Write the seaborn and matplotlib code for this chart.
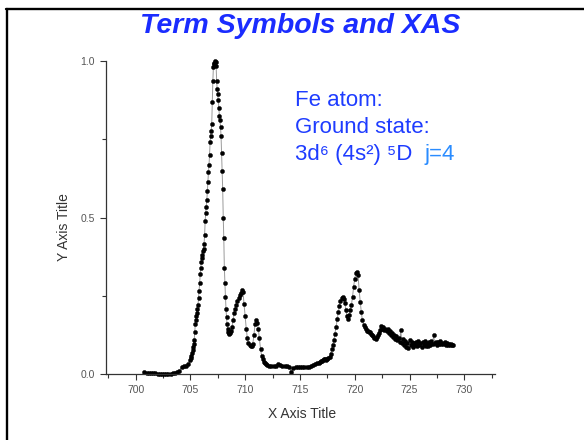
import matplotlib
matplotlib.use("Agg")
import matplotlib.pyplot as plt
from matplotlib.lines import Line2D
from matplotlib.ticker import MultipleLocator
import seaborn as sns
import pandas as pd

# Fe L-edge X-ray absorption spectrum (normalised)
energy_ev = [
    700.8, 701.0, 701.2, 701.4, 701.6, 701.8, 702.0, 702.2, 702.4, 702.6,
    702.8, 703.0, 703.2, 703.4, 703.6, 703.8, 704.0, 704.2, 704.4, 704.6,
    704.8,
    705.00, 705.05, 705.10, 705.15, 705.20, 705.25, 705.30, 705.35, 705.40, 705.45,
    705.50, 705.55, 705.60, 705.65, 705.70, 705.75, 705.80, 705.85, 705.90, 705.95,
    706.00, 706.05, 706.10, 706.15, 706.20, 706.25, 706.30, 706.35, 706.40, 706.45,
    706.50, 706.55, 706.60, 706.65, 706.70, 706.75, 706.80, 706.85, 706.90, 706.95,
    707.00, 707.05, 707.10, 707.15, 707.20, 707.25, 707.30, 707.35, 707.40, 707.45,
    707.50, 707.55, 707.60, 707.65, 707.70, 707.75, 707.80, 707.85, 707.90, 707.95,
    708.00, 708.05, 708.10, 708.15, 708.20, 708.25, 708.30, 708.35, 708.40, 708.45,
    708.50, 708.55, 708.60,
    708.7, 708.8, 708.9, 709.0, 709.1, 709.2, 709.3, 709.4, 709.5, 709.6,
    709.7, 709.8, 709.9, 710.0, 710.1, 710.2, 710.3, 710.4, 710.5, 710.6,
    710.7, 710.8, 710.9, 711.0, 711.1, 711.2, 711.3, 711.4, 711.5, 711.6,
    711.7, 711.8, 711.9, 712.0,
    712.2, 712.4, 712.6, 712.8, 713.0, 713.2, 713.4, 713.6, 713.8, 714.0,
    714.2, 714.4, 714.6, 714.8, 715.0, 715.2, 715.4, 715.6, 715.8, 716.0,
    716.2, 716.4, 716.6,
    716.7, 716.8, 716.9, 717.0, 717.1, 717.2, 717.3, 717.4, 717.5, 717.6,
    717.7, 717.8, 717.9, 718.0, 718.1, 718.2, 718.3, 718.4, 718.5, 718.6,
    718.7, 718.8, 718.9, 719.0, 719.1, 719.2, 719.3, 719.4, 719.5, 719.6,
    719.7, 719.8, 719.9, 720.0, 720.1, 720.2, 720.3, 720.4, 720.5, 720.6,
    720.7, 720.8, 720.9, 721.0, 721.1, 721.2, 721.3, 721.4, 721.5, 721.6,
    721.7, 721.8, 721.9, 722.0,
    722.1, 722.2, 722.3, 722.4, 722.5, 722.6, 722.7, 722.8, 722.9, 723.0,
    723.1, 723.2, 723.3, 723.4, 723.5, 723.6, 723.7, 723.8, 723.9, 724.0,
    724.1, 724.2, 724.3, 724.4, 724.5, 724.6, 724.7, 724.8, 724.9, 725.0,
    725.1, 725.2, 725.3, 725.4, 725.5, 725.6, 725.7, 725.8, 725.9, 726.0,
    726.1, 726.2, 726.3, 726.4, 726.5, 726.6, 726.7, 726.8, 726.9, 727.0,
    727.1, 727.2, 727.3, 727.4, 727.5, 727.6, 727.7, 727.8, 727.9, 728.0,
    728.1, 728.2, 728.3, 728.4, 728.5, 728.6, 728.7, 728.8, 728.9, 729.0,
]

absorption = [
    0.006, 0.005, 0.004, 0.004, 0.003, 0.003, 0.002, 0.002, 0.001, 0.001,
    0.002, 0.002, 0.002, 0.004, 0.005, 0.006, 0.012, 0.022, 0.025, 0.027,
    0.033,
    0.045, 0.052, 0.060, 0.068, 0.078, 0.088, 0.098, 0.108, 0.135, 0.160,
    0.172, 0.186, 0.196, 0.208, 0.222, 0.245, 0.266, 0.292, 0.320, 0.340,
    0.358, 0.370, 0.382, 0.392, 0.400, 0.415, 0.445, 0.490, 0.515, 0.535,
    0.555, 0.585, 0.615, 0.645, 0.668, 0.700, 0.740, 0.760, 0.775, 0.800,
    0.870, 0.935, 0.980, 0.990, 0.995, 1.000, 0.998, 0.985, 0.935, 0.910,
    0.895, 0.875, 0.850, 0.825, 0.812, 0.790, 0.760, 0.705, 0.650, 0.590,
    0.500, 0.435, 0.340, 0.290, 0.248, 0.210, 0.182, 0.160, 0.145, 0.136,
    0.132, 0.130, 0.131,
    0.138, 0.150, 0.172, 0.195, 0.210, 0.222, 0.235, 0.245, 0.253, 0.260,
    0.268, 0.262, 0.225, 0.185, 0.145, 0.115, 0.100, 0.093, 0.090, 0.090,
    0.098, 0.125, 0.160, 0.172, 0.165, 0.145, 0.115, 0.082, 0.060, 0.048,
    0.040, 0.036, 0.033, 0.031,
    0.028, 0.026, 0.025, 0.027, 0.034, 0.030, 0.027, 0.028, 0.026, 0.024,
    0.008, 0.020, 0.023, 0.022, 0.022, 0.022, 0.023, 0.023, 0.024, 0.026,
    0.030, 0.032, 0.035,
    0.036, 0.040, 0.043, 0.044, 0.047, 0.050, 0.048, 0.046, 0.050, 0.052,
    0.056, 0.064, 0.080, 0.095, 0.110, 0.130, 0.152, 0.176, 0.198, 0.218,
    0.234, 0.243, 0.246, 0.240, 0.228, 0.205, 0.185, 0.178, 0.188, 0.205,
    0.222, 0.248, 0.280, 0.305, 0.322, 0.325, 0.318, 0.270, 0.232, 0.198,
    0.172, 0.158, 0.150, 0.143, 0.139, 0.137, 0.135, 0.134, 0.130, 0.124,
    0.121, 0.116, 0.113, 0.118,
    0.124, 0.131, 0.142, 0.153, 0.146, 0.150, 0.140, 0.146, 0.137, 0.143,
    0.133, 0.138, 0.126, 0.132, 0.120, 0.127, 0.114, 0.121, 0.108, 0.116,
    0.104, 0.140, 0.100, 0.112, 0.094, 0.106, 0.088, 0.101, 0.084, 0.110,
    0.092, 0.104, 0.088, 0.099, 0.092, 0.103, 0.089, 0.105, 0.094, 0.099,
    0.088, 0.102, 0.093, 0.107, 0.091, 0.100, 0.090, 0.103, 0.094, 0.106,
    0.096, 0.124, 0.099, 0.104, 0.095, 0.102, 0.097, 0.105, 0.096, 0.101,
    0.098, 0.103, 0.095, 0.100, 0.094, 0.098, 0.093, 0.096, 0.092, 0.094,
]

x_ticks = [700, 705, 710, 715, 720, 725, 730]
y_ticks = [0.0, 0.5, 1.0]

title_text = "Term Symbols and XAS"
info_lines = ["Fe atom:", "Ground state:", "3d\u2076 (4s\u00b2) \u2075D"]
j_text = "j=4"

sns.set_theme(style="ticks")
plt.rcParams["font.family"] = ["Liberation Sans", "DejaVu Sans"]

W, H = 584, 440
fig = plt.figure(figsize=(W / 100, H / 100), dpi=100)
fig.patch.set_facecolor("white")


def fx(px):
    return px / W


def fy(py):
    return 1 - py / H


ax = fig.add_axes([fx(106), fy(374.3), fx(495) - fx(106), fy(61) - fy(374.3)])
ax.set_facecolor("white")

df = pd.DataFrame({"energy": energy_ev, "absorption": absorption})
sns.lineplot(
    data=df, x="energy", y="absorption", ax=ax, sort=False,
    color="#9a9a9a", linewidth=0.7,
    marker="o", markersize=3.0, markerfacecolor="black",
    markeredgecolor="black", markeredgewidth=0.3, clip_on=False,
)

ax.set_xlim(697.3, 732.8)
ax.set_ylim(0.0, 1.0)
ax.set_xticks(x_ticks)
ax.set_yticks(y_ticks)
ax.set_xticklabels([str(t) for t in x_ticks])
ax.set_yticklabels([f"{t:.1f}" for t in y_ticks])
ax.xaxis.set_minor_locator(MultipleLocator(2.5))
ax.yaxis.set_minor_locator(MultipleLocator(0.25))
sns.despine(ax=ax)
for side in ("left", "bottom"):
    ax.spines[side].set_color("#333333")
    ax.spines[side].set_linewidth(0.9)
ax.tick_params(which="major", direction="out", length=4, width=0.8,
               color="#333333", labelsize=7.5, labelcolor="#555555", pad=4)
ax.tick_params(which="minor", direction="out", length=3, width=0.8,
               color="#333333")

ax.set_xlabel("X Axis Title", fontsize=10, color="#333333")
ax.set_ylabel("Y Axis Title", fontsize=10, color="#333333")
ax.xaxis.set_label_coords((302 - 106) / (495 - 106), -(407 - 374.3) / (374.3 - 61))
ax.yaxis.set_label_coords(-(106 - 71) / (495 - 106), (374.3 - 227.5) / (374.3 - 61))

# slide title and annotation
fig.text(fx(300), fy(33.3), title_text, ha="center", va="baseline",
         fontsize=20.5, fontweight="bold", fontstyle="italic", color="#1a2cff")
for i, line in enumerate(info_lines):
    fig.text(fx(295), fy(105.7 + 27.2 * i), line, ha="left", va="baseline",
             fontsize=16, color="#1e3cff")
fig.text(fx(425), fy(160.1), j_text, ha="left", va="baseline",
         fontsize=16, color="#2a8cff")

# slide frame
fig.add_artist(Line2D([fx(6), 1.0], [fy(9.5), fy(9.5)], color="black",
                      linewidth=1.7, transform=fig.transFigure))
fig.add_artist(Line2D([fx(7.2), fx(7.2)], [fy(9.5), 0.0], color="black",
                      linewidth=1.7, transform=fig.transFigure))

fig.savefig("out.png", dpi=100, facecolor="white")
